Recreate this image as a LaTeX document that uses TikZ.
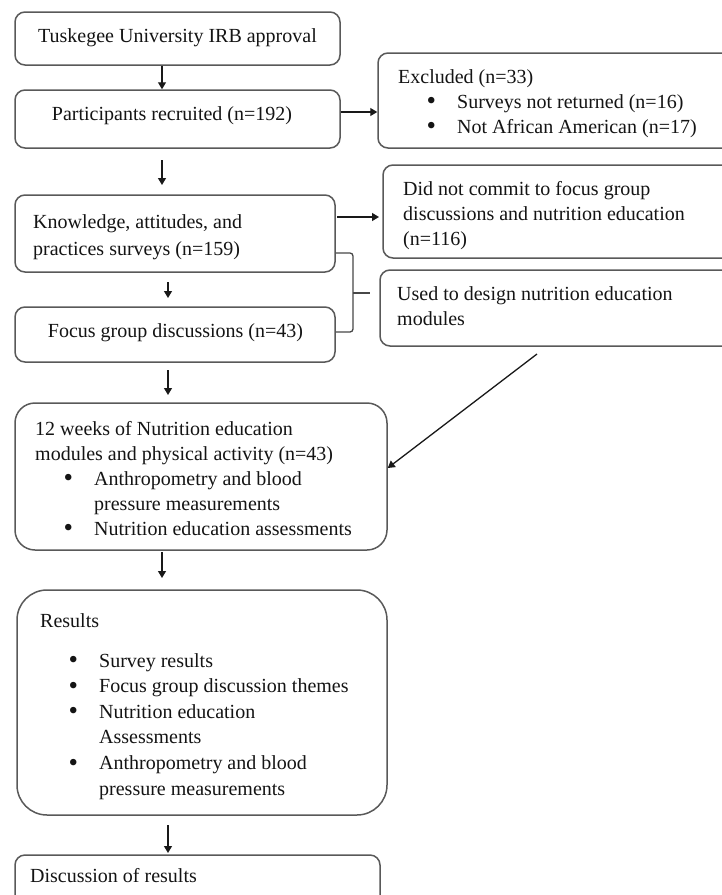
\documentclass[tikz,border=0pt]{standalone}
\usepackage{fontspec}
\setmainfont{Liberation Serif}
\usetikzlibrary{arrows.meta,calc}
\tikzset{
  box/.style={draw=black!65, line width=1.5pt, rounded corners=10pt, inner sep=0pt, fill=white},
  arr/.style={draw=black!90, line width=1.3pt, -{Triangle[length=7pt,width=8pt]}},
  txt/.style={inner sep=0pt, text=black!92, font=\fontsize{20}{25}\selectfont},
  brk/.style={draw=black!72, line width=1.3pt, rounded corners=3pt},
}
\newcommand{\bl}{\hspace*{28.5pt}\makebox[30.5pt][l]{\raisebox{-1.6pt}{\fontsize{27}{25}\selectfont\textbullet}}}
\newcommand{\cont}{\hspace*{59pt}}
\newcommand{\para}[3]{\parbox[t]{#1}{\fontsize{20}{#2}\selectfont\raggedright #3}}
\begin{document}
\begin{tikzpicture}[x=1pt,y=-1pt]
\useasboundingbox (0,0) rectangle (722,895);
\clip (0,0) rectangle (722,895);
% boxes
\node[box, minimum width=325pt, minimum height=53pt] (b1) at (177.5,38.5) {};
\node[box, minimum width=325pt, minimum height=58pt] (b2) at (177.5,119) {};
\node[box, minimum width=362pt, minimum height=95pt] (ex) at (559,100.5) {};
\node[box, minimum width=320pt, minimum height=77pt] (b3) at (175,233.5) {};
\node[box, minimum width=357pt, minimum height=93pt] (dnc) at (561.5,211.5) {};
\node[box, minimum width=320pt, minimum height=55pt] (b4) at (175,334.5) {};
\node[box, minimum width=360pt, minimum height=76pt] (used) at (560,308) {};
\node[box, rounded corners=20pt, minimum width=372pt, minimum height=147pt] (b5) at (201,476.5) {};
\node[box, rounded corners=30pt, minimum width=370pt, minimum height=225pt] (b6) at (202,702.5) {};
\node[box, minimum width=365pt, minimum height=65pt] (b7) at (197.5,887.5) {};
% texts
\node[txt, anchor=base] (t1) at (177.5,42) {Tuskegee University IRB approval};
\node[txt, anchor=base] (t2) at (172,120) {Participants recruited (n=192)};
\node[txt, anchor=base west] (tex) at (398,83) {\para{330pt}{25pt}{Excluded (n=33)\\
\bl Surveys not returned (n=16)\\
\bl Not African American (n=17)}};
\node[txt, anchor=base west] (t3) at (33,228) {\para{300pt}{27pt}{Knowledge, attitudes, and\\practices surveys (n=159)}};
\node[txt, anchor=base west] (tdnc) at (403,195) {\para{330pt}{25pt}{Did not commit to focus group\\discussions and nutrition education\\(n=116)}};
\node[txt, anchor=base] (t4) at (175.5,337) {Focus group discussions (n=43)};
\node[txt, anchor=base west] (tused) at (397,300) {\para{330pt}{25pt}{Used to design nutrition education\\modules}};
\node[txt, anchor=base west] (t5) at (35,435) {\para{350pt}{25pt}{12 weeks of Nutrition education\\
modules and physical activity (n=43)\\
\bl Anthropometry and blood\\
\cont pressure measurements\\
\bl Nutrition education assessments}};
\node[txt, anchor=base west] (t6a) at (40,627) {Results};
\node[txt, anchor=base west] (t6) at (40,667) {\para{350pt}{25.6pt}{\bl Survey results\\
\bl Focus group discussion themes\\
\bl Nutrition education\\
\cont Assessments\\
\bl Anthropometry and blood\\
\cont pressure measurements}};
\node[txt, anchor=base west] (t7) at (30,882) {Discussion of results};
% free arrow ends
\coordinate (xa) at (162,0);
\coordinate (a2s) at (162,160);
\coordinate (a2e) at (162,185);
\coordinate (a3s) at (168,282);
\coordinate (a3e) at (168,298);
\coordinate (a4s) at (168,370);
\coordinate (a4e) at (168,395);
\coordinate (a5s) at (162,552);
\coordinate (a5e) at (162,578);
\coordinate (a6s) at (168,825);
\coordinate (a6e) at (168,853);
\coordinate (r2) at (0,112);
\coordinate (r3s) at (337,217);
\coordinate (r3e) at (379,217);
\coordinate (dg) at (537,354);
\coordinate (dge) at (0,468);
% arrows
\draw[arr] (b1.south -| xa) -- (b2.north -| xa);
\draw[arr] (a2s) -- (a2e);
\draw[arr] (b2.east |- r2) -- (ex.west |- r2);
\draw[arr] (r3s) -- (r3e);
\draw[arr] (a3s) -- (a3e);
\draw[arr] (a4s) -- (a4e);
\draw[arr] (a5s) -- (a5e);
\draw[arr] (a6s) -- (a6e);
\draw[arr] (dg) -- (b5.east |- dge);
% bracket
\coordinate (bt) at (353,253);
\coordinate (bb) at (353,332);
\coordinate (bm) at (353,293);
\coordinate (bmr) at (370,293);
\draw[brk] (b3.east |- bt) -- (bt) -- (bb) -- (b4.east |- bb);
\draw[brk] (bm) -- (bmr);
\end{tikzpicture}
\end{document}
